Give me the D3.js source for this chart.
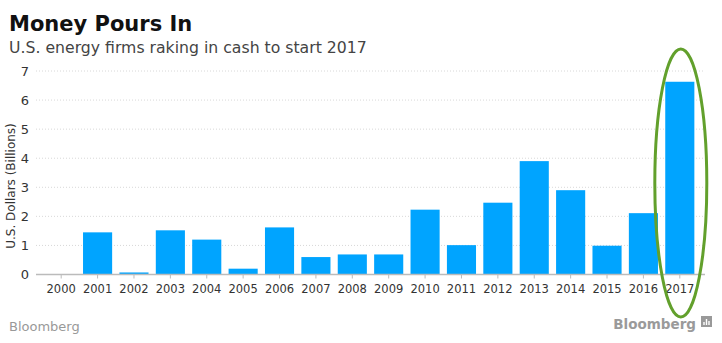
<!DOCTYPE html>
<html><head><meta charset="utf-8">
<script src="https://cdn.jsdelivr.net/npm/d3@7"></script>
<style>body{margin:0;background:#fff;} svg{display:block;}</style>
</head><body>
<svg id="c" width="722" height="343"></svg>
<script>
const years = ["2000","2001","2002","2003","2004","2005","2006","2007","2008","2009","2010","2011","2012","2013","2014","2015","2016","2017"];
const values = [0,1.45,0.07,1.52,1.2,0.2,1.62,0.6,0.69,0.69,2.23,1.01,2.47,3.9,2.9,0.99,2.11,6.63];
const yTicks = [0,1,2,3,4,5,6,7];
const title = "Money Pours In";
const subtitle = "U.S. energy firms raking in cash to start 2017";
const yLabel = "U.S. Dollars (Billions)";

const svg = d3.select("#c");
const font = "DejaVu Sans, Verdana, sans-serif";
const x = d3.scaleBand().domain(years).range([43, 698]).paddingInner(0.2).paddingOuter(0.1);
const y = d3.scaleLinear().domain([0,7]).range([274.5, 71]);

svg.append("text").attr("x",9).attr("y",31).attr("font-family",font).attr("font-weight","bold")
  .attr("font-size",21).attr("fill","#111").text(title);
svg.append("text").attr("x",9).attr("y",53).attr("font-family",font)
  .attr("font-size",15.7).attr("fill","#444").text(subtitle);

// gridlines
svg.append("g").selectAll("line").data(yTicks.filter(d=>d>0)).join("line")
  .attr("x1",36).attr("x2",705).attr("y1",d=>y(d)).attr("y2",d=>y(d))
  .attr("stroke","#d8d8d8").attr("stroke-dasharray","1,2");

// y tick labels
svg.append("g").selectAll("text").data(yTicks).join("text")
  .attr("x",29).attr("y",d=>y(d)+4.5).attr("text-anchor","end")
  .attr("font-family",font).attr("font-size",13).attr("fill","#333").text(d=>d);

svg.append("text").attr("transform","translate(15,186) rotate(-90)").attr("text-anchor","middle")
  .attr("font-family",font).attr("font-size",12).attr("fill","#333").text(yLabel);

// bars
svg.append("g").selectAll("rect").data(years).join("rect")
  .attr("x",d=>x(d)).attr("width",x.bandwidth())
  .attr("y",(d,i)=>y(values[i])).attr("height",(d,i)=>y(0)-y(values[i]))
  .attr("fill","#00a4ff");

// x axis
const xa = svg.append("g").attr("transform",`translate(0,${y(0)})`);
xa.append("line").attr("x1",36).attr("x2",705).attr("stroke","#bbb").attr("stroke-width",1.5);
xa.selectAll("line.t").data(years).join("line").attr("class","t")
  .attr("x1",d=>x(d)+x.bandwidth()/2).attr("x2",d=>x(d)+x.bandwidth()/2)
  .attr("y1",0).attr("y2",4).attr("stroke","#bbb");
xa.selectAll("text").data(years).join("text")
  .attr("x",d=>x(d)+x.bandwidth()/2).attr("y",18).attr("text-anchor","middle")
  .attr("font-family",font).attr("font-size",11.5).attr("fill","#333").text(d=>d);

// ellipse highlight
const last = years[years.length-1];
svg.append("ellipse").attr("cx",x(last)+x.bandwidth()/2+1).attr("cy",183).attr("rx",26).attr("ry",134)
  .attr("fill","none").attr("stroke","#62a02c").attr("stroke-width",3);

// footers
svg.append("text").attr("x",9).attr("y",331).attr("font-family",font).attr("font-size",13)
  .attr("fill","#999").text("Bloomberg");
svg.append("text").attr("x",696).attr("y",329).attr("text-anchor","end").attr("font-family",font)
  .attr("font-size",13.5).attr("font-weight","bold").attr("fill","#9a9a9a").text("Bloomberg");
svg.append("rect").attr("x",701).attr("y",316).attr("width",11).attr("height",11).attr("fill","#999");
svg.append("path").attr("d","M704,325V322M706.5,325V319M709,325V321").attr("stroke","#fff").attr("stroke-width",1.4);
</script>
</body></html>
